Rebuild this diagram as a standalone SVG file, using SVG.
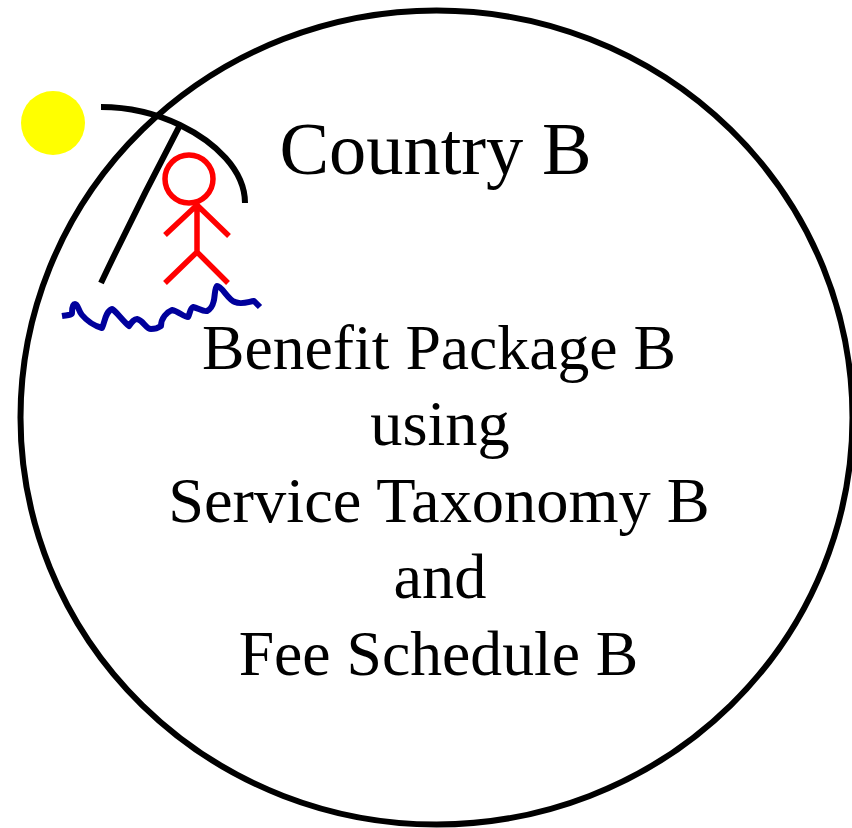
<svg xmlns="http://www.w3.org/2000/svg" width="852" height="828" viewBox="0 0 852 828">
<style>
.t{font-family:"Liberation Serif","Times New Roman",serif;font-size:64.4px;text-anchor:middle;fill:#000}
.k{fill:none;stroke:#000;stroke-width:6}
.r{fill:none;stroke:#f00;stroke-width:5.5}
</style>
<rect width="852" height="828" fill="#fff"/>
<g id="country"><ellipse class="k" cx="436.500" cy="417.500" rx="416" ry="407"/></g>
<g id="sun"><circle cx="53" cy="123" r="32" fill="#ff0"/></g>
<g id="umbrella"><path class="k" d="M101 107C130 107 155 113 180 125C215 142 245 170 245 203"/><path class="k" d="M179 127Q138 205 101 283"/></g>
<g id="person"><circle class="r" cx="189" cy="179" r="24"/><path class="r" d="M197 205V252M165 235L197 205L229 236M165 283L197 252L228 283"/></g>
<g id="water"><path fill="none" stroke="#00009c" stroke-width="6" stroke-linejoin="round" d="M62 316C68 315 72 315 72 313C72 306 73 304 75 304C78 304 78 310 82 315C87 321 95 326 102 328C105 322 105 312 112 309C116 311 122 320 129 326C132 322 134 319 137 319C143 320 146 329 151 329C155 329 158 328 161 326C161 318 167 312 172 310C178 311 184 317 188 317C190 314 190 308 193 307C198 308 203 312 207 311C213 308 213 303 214 300C215 294 215 287 217 286C222 286 228 300 235 302C241 305 248 302 254 301C256 303 258 305 260 307"/></g>
<g id="labels">
<text class="t" style="font-size:74.400px" x="435.500" y="174">Country B</text>
<text class="t" style="font-size:63.700px" x="439" y="369">Benefit Package B</text>
<text class="t" x="440" y="445">using</text>
<text class="t" x="439" y="522">Service Taxonomy B</text>
<text class="t" x="440" y="598">and</text>
<text class="t" style="font-size:63.700px" x="438.500" y="675">Fee Schedule B</text>
</g>
</svg>
